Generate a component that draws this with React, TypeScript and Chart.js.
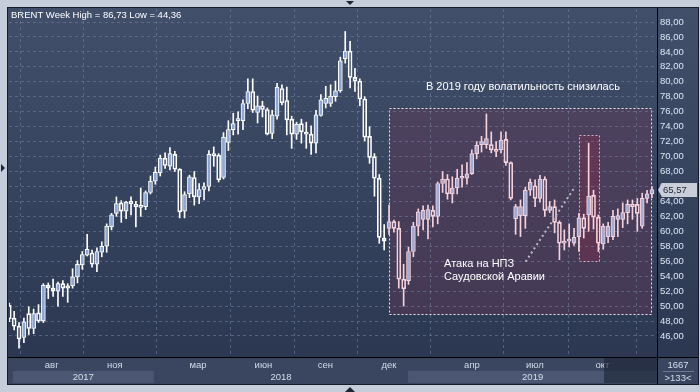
import React, { useEffect, useRef } from 'react';
import { Chart, registerables } from 'chart.js';

Chart.register(...registerables);

// Weekly Brent candles (Jun 2017 – Dec 2019)
const opens = [
  50.1, 48.4, 47.3, 45.8, 49.0, 47.0, 49.1, 48.0, 52.8, 52.4,
  52.0, 53.0, 52.7, 52.7, 53.9, 55.5, 56.8, 57.1, 55.6, 57.2,
  58.0, 60.6, 62.4, 63.8, 62.7, 64.0, 63.6, 63.2, 63.3, 65.2,
  66.7, 67.8, 69.8, 68.7, 70.3, 68.3, 62.7, 65.0, 67.2, 64.6,
  65.6, 66.0, 70.4, 70.2, 67.2, 71.9, 73.6, 74.8, 74.8, 77.1,
  78.7, 75.9, 76.8, 76.3, 73.1, 75.4, 79.1, 77.5, 75.0, 73.0,
  74.4, 73.2, 73.0, 71.8, 75.5, 77.1, 77.1, 78.0, 78.8, 83.1,
  84.1, 80.6, 80.1, 77.7, 72.7, 70.0, 67.1, 59.1, 60.4, 61.3,
  60.4, 53.6, 53.4, 57.3, 60.7, 61.6, 61.6, 62.8, 62.0, 66.4,
  67.0, 65.0, 65.8, 67.1, 67.1, 67.7, 70.4, 71.6, 71.6, 71.6,
  70.9, 70.9, 72.3, 69.2, 61.7, 62.1, 62.1, 65.5, 66.1, 64.4,
  67.0, 62.8, 63.3, 61.2, 58.4, 58.7, 58.4, 59.3, 61.8, 62.2,
  64.8, 61.9, 58.3, 59.3, 59.3, 61.6, 61.6, 62.5, 63.6, 63.6,
  60.7, 64.4, 65.0,
];
const highs = [
  50.4, 49.3, 47.8, 48.4, 49.9, 49.6, 50.2, 53.0, 53.1, 53.6,
  53.2, 53.4, 53.0, 55.0, 56.1, 57.3, 59.6, 57.5, 57.8, 58.6,
  61.0, 62.4, 64.6, 64.1, 64.0, 64.6, 64.0, 65.8, 65.4, 67.4,
  68.6, 70.2, 70.5, 71.2, 70.7, 68.4, 65.3, 67.5, 68.0, 66.4,
  66.5, 70.8, 71.3, 70.4, 73.2, 74.8, 75.8, 76.0, 77.6, 80.4,
  80.4, 78.1, 77.4, 76.5, 76.2, 79.8, 79.6, 79.3, 75.4, 74.6,
  75.0, 74.6, 74.1, 76.2, 78.3, 79.4, 79.6, 80.1, 83.3, 86.73,
  85.4, 81.8, 80.4, 78.0, 74.0, 70.4, 67.6, 60.9, 63.5, 61.5,
  61.3, 55.6, 57.9, 61.2, 63.0, 63.4, 63.5, 63.4, 66.6, 68.0,
  67.6, 67.3, 68.3, 68.9, 69.2, 70.9, 72.0, 72.7, 75.7, 73.3,
  72.0, 73.3, 73.3, 69.3, 63.6, 64.2, 65.9, 67.0, 66.9, 67.5,
  67.3, 64.0, 64.2, 61.4, 60.2, 61.0, 60.4, 62.4, 62.3, 71.8,
  65.5, 62.2, 61.0, 61.2, 62.8, 63.0, 63.8, 64.2, 64.2, 64.4,
  65.1, 65.5, 66.0,
];
const lows = [
  47.9, 46.8, 44.36, 45.1, 46.2, 46.3, 47.8, 47.8, 51.0, 51.3,
  50.0, 51.3, 50.5, 52.4, 53.1, 54.9, 56.7, 55.2, 54.6, 56.6,
  57.2, 60.2, 62.0, 61.2, 61.7, 62.2, 60.6, 62.0, 62.9, 65.0,
  66.3, 67.4, 68.4, 68.2, 68.0, 61.8, 61.8, 64.5, 63.5, 63.7,
  64.2, 65.4, 68.7, 66.6, 67.0, 70.8, 72.9, 73.0, 73.6, 76.4,
  75.9, 74.5, 75.3, 72.9, 72.4, 75.0, 76.9, 72.9, 71.1, 72.3,
  71.8, 71.1, 70.3, 70.5, 75.4, 76.5, 76.7, 77.4, 78.6, 82.5,
  79.2, 78.7, 76.8, 72.1, 69.1, 64.7, 58.4, 57.5, 59.6, 59.9,
  52.4, 50.0, 52.9, 56.6, 59.4, 60.2, 59.0, 60.6, 61.0, 65.2,
  64.3, 63.8, 65.0, 65.9, 66.3, 67.6, 69.7, 70.6, 71.1, 70.5,
  70.0, 70.5, 68.8, 64.2, 59.6, 59.3, 60.4, 64.8, 63.3, 63.9,
  62.0, 62.5, 59.8, 56.2, 57.5, 57.9, 58.1, 57.3, 59.1, 60.0,
  60.3, 57.3, 57.6, 58.5, 58.9, 59.3, 60.5, 61.0, 61.6, 60.0,
  60.4, 63.8, 64.5,
];
const closes = [
  48.3, 47.3, 45.6, 47.9, 47.0, 49.0, 48.0, 52.8, 52.4, 52.0,
  53.0, 52.4, 52.4, 53.9, 55.6, 56.9, 57.6, 55.6, 57.3, 58.0,
  60.7, 62.2, 63.7, 62.7, 63.9, 63.7, 63.3, 63.4, 65.2, 66.7,
  67.9, 69.8, 68.8, 70.4, 68.3, 62.6, 64.9, 67.3, 64.6, 65.6,
  66.0, 70.3, 70.1, 66.9, 72.6, 73.6, 74.4, 75.0, 77.1, 78.7,
  76.2, 76.8, 76.3, 73.0, 75.6, 79.3, 77.2, 74.9, 73.0, 74.3,
  73.3, 73.0, 71.8, 75.6, 77.6, 77.8, 78.1, 78.8, 82.8, 84.1,
  80.6, 80.1, 77.7, 72.6, 69.9, 67.1, 59.2, 58.7, 61.3, 60.4,
  53.6, 52.3, 57.3, 60.7, 62.6, 62.8, 62.9, 62.0, 66.4, 67.0,
  65.0, 65.8, 67.1, 67.2, 67.7, 70.4, 71.5, 72.0, 72.4, 70.9,
  70.7, 72.2, 69.2, 64.4, 63.3, 63.3, 65.5, 66.6, 64.4, 67.0,
  62.8, 63.3, 61.2, 58.4, 58.7, 58.9, 59.2, 61.8, 60.4, 64.7,
  61.9, 58.4, 60.7, 60.7, 62.0, 62.1, 62.5, 63.6, 63.3, 62.4,
  64.4, 65.0, 65.57,
];

// Axis labels
const monthLabels = ['авг', 'ноя', 'мар', 'июн', 'сен', 'дек', 'апр', 'июл', 'окт'];
const monthPositions = [8.71, 21.67, 38.76, 52.2, 64.94, 77.98, 95.03, 107.97, 121.83];
const yearLabels = ['2017', '2018', '2019'];
const yearPositions = [15.2, 55.8, 107.5];
const yearBandStarts = [0.7, 81.9];
const yearBandEnds = [29.7, 133.04];
const priceTicks = [46, 48, 50, 52, 54, 56, 58, 60, 62, 64, 66, 68, 70, 72, 74, 76, 78, 80, 82, 84, 86, 88];

const titleText = 'BRENT Week High = 86,73 Low = 44,36';
const noteText = 'В 2019 году волатильность снизилась';
const attackLines = ['Атака на НПЗ', 'Саудовской Аравии'];
const highlightStart = 78;

const X_MIN = -0.06;
const X_MAX = 133.04;
const FONT = '"Liberation Sans", Arial, sans-serif';

export default function App() {
  const ref = useRef<HTMLCanvasElement>(null);

  useEffect(() => {
    const canvas = ref.current;
    if (!canvas) return;
    const idx = opens.map((_, i) => i);
    const inBox = (i: number) => i >= highlightStart;
    const bodies = idx.map((i) => ({ x: i, y: [opens[i], closes[i]] }));
    const upper = idx.map((i) => ({ x: i, y: [Math.max(opens[i], closes[i]), highs[i]] }));
    const lower = idx.map((i) => ({ x: i, y: [lows[i], Math.min(opens[i], closes[i])] }));
    const lineCol = idx.map((i) => (inBox(i) ? '#f6d2dc' : '#ffffff'));
    const fillCol = idx.map((i) =>
      closes[i] >= opens[i] ? (inBox(i) ? '#a3abd3' : '#8ea8d3') : 'rgba(0,0,0,0)'
    );

    const framePlugin = {
      id: 'framePlugin',
      beforeDraw(chart: any) {
        const { ctx, chartArea: a, scales } = chart;
        const xs = scales.x;
        const ys = scales.y;
        const px = (v: number) => xs.getPixelForValue(v);
        const py = (v: number) => ys.getPixelForValue(v);
        ctx.save();
        ctx.fillStyle = '#c4cdd9';
        ctx.fillRect(0, 0, 700, 392);
        const g = ctx.createLinearGradient(0, 8, 0, 357);
        g.addColorStop(0, '#414f6a');
        g.addColorStop(1, '#2c3852');
        ctx.fillStyle = g;
        ctx.fillRect(8, 8, 690, 349);
        ctx.fillStyle = '#3a4660';
        ctx.fillRect(8, 357, 690, 27);
        ctx.fillStyle = '#4b5772';
        for (let k = 0; k < yearBandStarts.length; k++) {
          const x0 = Math.max(a.left, px(yearBandStarts[k]));
          const x1 = Math.min(a.right, px(yearBandEnds[k]));
          ctx.fillRect(x0, 371, x1 - x0, 12);
        }
        // highlighted 2019 area
        const bx0 = Math.round(px(77.9)) + 0.5;
        const bx1 = Math.round(px(131.8)) + 0.5;
        const by0 = Math.round(py(76.5)) + 0.5;
        const by1 = Math.round(py(48.94)) + 0.5;
        ctx.fillStyle = 'rgba(108,56,86,0.36)';
        ctx.fillRect(bx0, by0, bx1 - bx0, by1 - by0);
        ctx.setLineDash([2, 2]);
        ctx.strokeStyle = '#f0e6ee';
        ctx.lineWidth = 1;
        ctx.strokeRect(bx0, by0, bx1 - bx0, by1 - by0);
        // attack box
        const rx0 = Math.round(px(117.1)) + 0.5;
        const rx1 = Math.round(px(121.05)) + 0.5;
        const ry0 = Math.round(py(72.88)) + 0.5;
        const ry1 = Math.round(py(56.07)) + 0.5;
        ctx.fillStyle = 'rgba(140,40,70,0.32)';
        ctx.fillRect(rx0, ry0, rx1 - rx0, ry1 - ry0);
        ctx.strokeStyle = '#dcb0c0';
        ctx.strokeRect(rx0, ry0, rx1 - rx0, ry1 - ry0);
        ctx.restore();
      },
      afterDatasetsDraw(chart: any) {
        const { ctx, scales } = chart;
        const px = (v: number) => scales.x.getPixelForValue(v);
        const py = (v: number) => scales.y.getPixelForValue(v);
        ctx.save();
        ctx.setLineDash([2, 3]);
        ctx.strokeStyle = '#b9bac6';
        ctx.lineWidth = 2;
        ctx.beginPath();
        ctx.moveTo(px(106.06), py(55.94));
        ctx.lineTo(px(116.2), py(65.97));
        ctx.stroke();
        ctx.setLineDash([]);
        ctx.fillStyle = '#ffffff';
        ctx.font = '11px ' + FONT;
        ctx.textBaseline = 'middle';
        ctx.textAlign = 'center';
        ctx.fillText(noteText, px(105.5), py(79.3));
        ctx.textAlign = 'left';
        ctx.fillText(attackLines[0], px(89.3), py(55.63));
        ctx.fillText(attackLines[1], px(89.3), py(53.89));
        ctx.restore();
      },
      afterDraw(chart: any) {
        const { ctx, chartArea: a, scales } = chart;
        const px = (v: number) => scales.x.getPixelForValue(v);
        const py = (v: number) => scales.y.getPixelForValue(v);
        ctx.save();
        // year labels
        ctx.fillStyle = '#d4deec';
        ctx.font = '9.5px ' + FONT;
        ctx.textAlign = 'center';
        ctx.textBaseline = 'middle';
        for (let k = 0; k < yearLabels.length; k++) {
          ctx.fillText(yearLabels[k], px(yearPositions[k]), 377);
        }
        // darker right region
        ctx.fillStyle = 'rgba(28,36,52,0.62)';
        const dx0 = px(122.15);
        ctx.fillRect(dx0, 358, a.right - dx0, 25);
        // frame lines
        ctx.strokeStyle = '#000000';
        ctx.lineWidth = 1;
        ctx.beginPath();
        ctx.moveTo(657.5, 8);
        ctx.lineTo(657.5, 384);
        ctx.moveTo(8, 357.5);
        ctx.lineTo(698, 357.5);
        ctx.stroke();
        ctx.strokeStyle = '#151b28';
        ctx.strokeRect(7.5, 7.5, 691, 377);
        // corner panel
        ctx.fillStyle = '#d4deec';
        ctx.font = '9.5px ' + FONT;
        ctx.fillText('1667', 678, 365);
        ctx.fillText('>133<', 678, 378);
        ctx.strokeStyle = '#6b7892';
        ctx.beginPath();
        ctx.moveTo(663, 371.5);
        ctx.lineTo(694, 371.5);
        ctx.stroke();
        // last price marker
        const last = closes[closes.length - 1];
        const ly = Math.round(py(last));
        ctx.fillStyle = '#c9ced8';
        ctx.beginPath();
        ctx.moveTo(658, ly);
        ctx.lineTo(662, ly - 7);
        ctx.lineTo(697, ly - 7);
        ctx.lineTo(697, ly + 7);
        ctx.lineTo(662, ly + 7);
        ctx.closePath();
        ctx.fill();
        ctx.fillStyle = '#1e2636';
        ctx.textAlign = 'left';
        ctx.font = '9.5px ' + FONT;
        ctx.fillText(last.toFixed(2).replace('.', ','), 663, ly + 0.5);
        // title
        ctx.fillStyle = '#ffffff';
        ctx.font = '9.5px ' + FONT;
        ctx.fillText(titleText, 11, 15);
        // small triangles in the outer frame
        ctx.fillStyle = '#1d2433';
        ctx.beginPath();
        ctx.moveTo(346, 1);
        ctx.lineTo(354, 1);
        ctx.lineTo(350, 5);
        ctx.closePath();
        ctx.fill();
        ctx.beginPath();
        ctx.moveTo(1, 164);
        ctx.lineTo(5, 168);
        ctx.lineTo(1, 172);
        ctx.closePath();
        ctx.fill();
        ctx.beginPath();
        ctx.moveTo(345, 392);
        ctx.lineTo(355, 392);
        ctx.lineTo(350, 387);
        ctx.closePath();
        ctx.fill();
        ctx.restore();
      },
    };

    const chart = new Chart(canvas, {
      type: 'bar',
      data: {
        datasets: [
          {
            data: bodies as any,
            grouped: false,
            barThickness: 4,
            borderWidth: 1,
            borderSkipped: false,
            minBarLength: 2,
            backgroundColor: fillCol,
            borderColor: lineCol,
          } as any,
          {
            data: upper as any,
            grouped: false,
            barThickness: 1,
            borderWidth: 0,
            backgroundColor: lineCol,
          } as any,
          {
            data: lower as any,
            grouped: false,
            barThickness: 1,
            borderWidth: 0,
            backgroundColor: lineCol,
          } as any,
        ],
      },
      options: {
        responsive: false,
        animation: false,
        devicePixelRatio: 1,
        layout: { padding: { left: 9, top: 9, right: 2, bottom: 8 } },
        plugins: { legend: { display: false }, tooltip: { enabled: false } },
        scales: {
          x: {
            type: 'linear',
            min: X_MIN,
            max: X_MAX,
            position: 'bottom',
            offset: false,
            afterBuildTicks: (s: any) => {
              s.ticks = monthPositions.map((v) => ({ value: v }));
            },
            afterFit: (s: any) => {
              s.height = 27;
            },
            ticks: {
              autoSkip: false,
              maxRotation: 0,
              minRotation: 0,
              padding: 3,
              color: '#d0dbea',
              font: { family: FONT, size: 9.5 },
              callback: (_v: any, i: number) => monthLabels[i],
            },
            grid: {
              color: 'rgba(115,130,160,0.55)',
              drawTicks: false,
            },
            border: { display: false, dash: [3, 3] },
          },
          y: {
            type: 'linear',
            position: 'right',
            min: 43.19,
            max: 89.74,
            afterBuildTicks: (s: any) => {
              s.ticks = priceTicks.map((v) => ({ value: v }));
            },
            afterFit: (s: any) => {
              s.width = 41;
            },
            ticks: {
              padding: 3,
              color: '#dce7f6',
              font: { family: FONT, size: 9.5 },
              callback: (v: any) => Number(v).toFixed(2).replace('.', ','),
            },
            grid: {
              color: 'rgba(115,130,160,0.55)',
              drawTicks: false,
            },
            border: { display: false, dash: [3, 3] },
          },
        },
      } as any,
      plugins: [framePlugin],
    });

    return () => {
      chart.destroy();
    };
  }, []);

  return (
    <div style={{ position: 'absolute', left: 0, top: 0, width: 700, height: 392 }}>
      <canvas ref={ref} width={700} height={392} style={{ display: 'block', width: 700, height: 392 }} />
    </div>
  );
}
